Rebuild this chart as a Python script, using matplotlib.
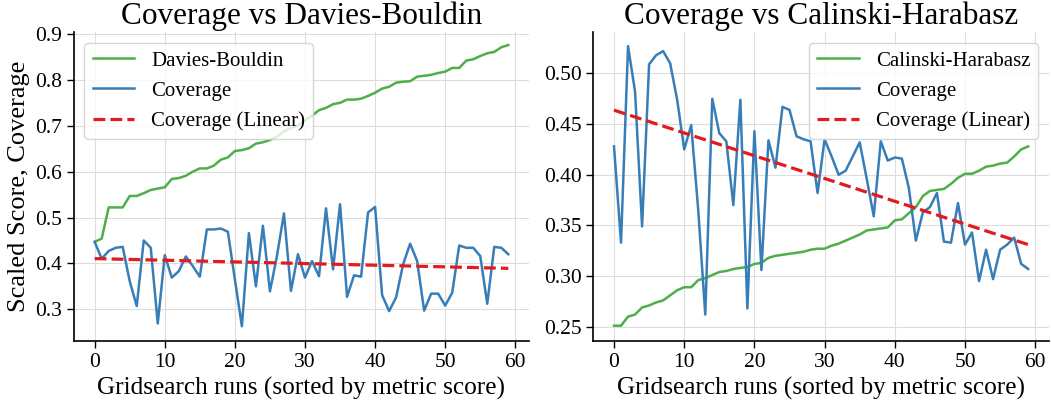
import numpy as np
import matplotlib
matplotlib.use("Agg")
import matplotlib.pyplot as plt

runs = np.arange(60)

davies_bouldin = [0.447, 0.454, 0.522, 0.522, 0.522, 0.547, 0.547, 0.553, 0.560, 0.563,
                  0.566, 0.584, 0.586, 0.591, 0.600, 0.607, 0.607, 0.613, 0.626, 0.631,
                  0.645, 0.647, 0.651, 0.661, 0.664, 0.669, 0.676, 0.688, 0.695, 0.700,
                  0.712, 0.722, 0.734, 0.739, 0.747, 0.750, 0.757, 0.757, 0.759, 0.765,
                  0.772, 0.781, 0.785, 0.794, 0.796, 0.797, 0.807, 0.809, 0.811, 0.815,
                  0.818, 0.826, 0.826, 0.842, 0.845, 0.852, 0.858, 0.861, 0.871, 0.876]
coverage_db = [0.447, 0.410, 0.427, 0.434, 0.436, 0.361, 0.307, 0.450, 0.434, 0.269,
               0.418, 0.369, 0.383, 0.415, 0.394, 0.371, 0.474, 0.474, 0.476, 0.469,
               0.365, 0.263, 0.466, 0.350, 0.482, 0.339, 0.416, 0.509, 0.340, 0.420,
               0.369, 0.405, 0.372, 0.520, 0.387, 0.529, 0.327, 0.374, 0.371, 0.511,
               0.523, 0.331, 0.296, 0.326, 0.398, 0.443, 0.405, 0.297, 0.334, 0.334,
               0.308, 0.336, 0.439, 0.434, 0.434, 0.416, 0.312, 0.436, 0.434, 0.420]

calinski = [0.251, 0.251, 0.260, 0.262, 0.269, 0.271, 0.274, 0.276, 0.281, 0.286,
            0.289, 0.289, 0.296, 0.298, 0.301, 0.304, 0.305, 0.307, 0.308, 0.309,
            0.312, 0.313, 0.318, 0.320, 0.321, 0.322, 0.323, 0.324, 0.326, 0.327,
            0.327, 0.330, 0.332, 0.335, 0.338, 0.341, 0.345, 0.346, 0.347, 0.348,
            0.355, 0.356, 0.362, 0.368, 0.379, 0.384, 0.385, 0.386, 0.391, 0.397,
            0.401, 0.401, 0.404, 0.408, 0.409, 0.411, 0.412, 0.418, 0.425, 0.428]
coverage_ch = [0.428, 0.333, 0.527, 0.482, 0.349, 0.509, 0.518, 0.522, 0.510, 0.474,
               0.425, 0.449, 0.365, 0.262, 0.475, 0.441, 0.433, 0.370, 0.474, 0.268,
               0.443, 0.306, 0.434, 0.407, 0.467, 0.464, 0.438, 0.435, 0.433, 0.382,
               0.435, 0.418, 0.400, 0.404, 0.418, 0.432, 0.396, 0.359, 0.433, 0.414,
               0.417, 0.416, 0.387, 0.335, 0.363, 0.368, 0.382, 0.334, 0.333, 0.372,
               0.331, 0.343, 0.295, 0.326, 0.297, 0.326, 0.331, 0.338, 0.312, 0.307]

titles = ["Coverage vs Davies-Bouldin", "Coverage vs Calinski-Harabasz"]
metric_names = ["Davies-Bouldin", "Calinski-Harabasz"]

GREEN = "#4daf4a"
BLUE = "#377eb8"
RED = "#e41a1c"

plt.rcParams['font.family'] = ['Liberation Serif', 'DejaVu Serif']

fig = plt.figure(figsize=(10.51, 4.05), dpi=100)
ax1 = fig.add_axes([0.0704, 0.158, 0.4329, 0.762])
ax2 = fig.add_axes([0.5645, 0.158, 0.4335, 0.762])

panels = [(ax1, davies_bouldin, coverage_db, "upper left"),
          (ax2, calinski, coverage_ch, "upper right")]

for i, (ax, metric, cov, loc) in enumerate(panels):
    ax.plot(runs, metric, color=GREEN, lw=1.8, label=metric_names[i])
    ax.plot(runs, cov, color=BLUE, lw=1.8, label="Coverage")
    coef = np.polyfit(runs, cov, 1)
    ax.plot(runs, np.polyval(coef, runs), color=RED, lw=2.3, ls="--",
            label="Coverage (Linear)")
    ax.set_title(titles[i], fontsize=22.5, pad=6)
    ax.set_xlabel("Gridsearch runs (sorted by metric score)", fontsize=18.2)
    ax.grid(True, color="#dddddd", lw=0.8)
    ax.set_axisbelow(True)
    ax.spines['top'].set_visible(False)
    ax.spines['right'].set_visible(False)
    ax.spines['left'].set_linewidth(1.2)
    ax.spines['bottom'].set_linewidth(1.2)
    ax.tick_params(labelsize=15.5, length=5, width=1)
    ax.set_xticks([0, 10, 20, 30, 40, 50, 60])
    ax.legend(loc=loc, fontsize=15, framealpha=0.8, edgecolor="#cccccc",
              handlelength=2.0)

ax1.set_ylabel("Scaled Score, Coverage", fontsize=19)
ax1.set_yticks([0.3, 0.4, 0.5, 0.6, 0.7, 0.8, 0.9])
ax2.set_yticks([0.25, 0.30, 0.35, 0.40, 0.45, 0.50])
ax2.set_yticklabels(["0.25", "0.30", "0.35", "0.40", "0.45", "0.50"])
ax1.set_ylim(0.2308, 0.9035)
ax2.set_ylim(0.2359, 0.5405)

fig.savefig("out.png", dpi=100)
